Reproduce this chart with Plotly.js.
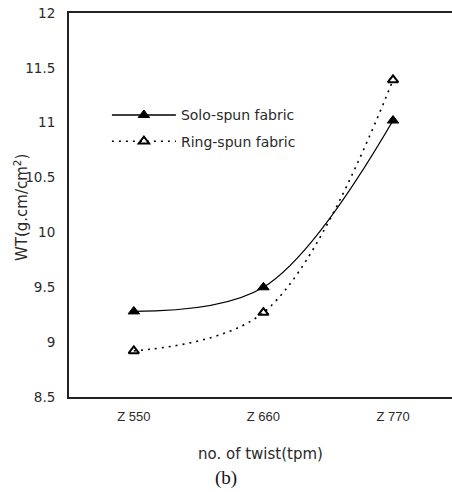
<!DOCTYPE html>
<html>
<head>
<meta charset="utf-8">
<script src="https://cdn.plot.ly/plotly-3.0.1.min.js"></script>
<style>html,body{margin:0;padding:0;background:#fff;}</style>
</head>
<body>
<div id="chart" style="width:452px;height:492px;"></div>
<script>
const categories = ["Z 550", "Z 660", "Z 770"];
const soloSpun = [9.28, 9.50, 11.02];
const ringSpun = [8.92, 9.27, 11.39];
const seriesNames = ["Solo-spun fabric", "Ring-spun fabric"];
const yTicks = [8.5, 9, 9.5, 10, 10.5, 11, 11.5, 12];

const sans = "DejaVu Sans, Verdana, sans-serif";
const narrow = "Liberation Sans, Arial, sans-serif";
const ink = "#2a2a2a";

const traces = [
  {
    x: categories, y: soloSpun, name: seriesNames[0], legendgroup: "solo",
    type: "scatter", mode: "lines+markers",
    line: {color: "#000", width: 1.3, shape: "spline", smoothing: 1},
    marker: {symbol: "triangle-up", size: 10, color: "#000", line: {color: "#000", width: 1}}
  },
  {
    x: categories, y: ringSpun, name: seriesNames[1], legendgroup: "ring",
    type: "scatter", mode: "lines+markers",
    line: {color: "#000", width: 1.6, shape: "spline", smoothing: 1, dash: "2px,5px"},
    marker: {symbol: "triangle-up-open", size: 9, color: "#000", line: {color: "#000", width: 2}}
  }
];

const layout = {
  width: 452, height: 492,
  margin: {l: 69, r: 0, t: 13, b: 95},
  paper_bgcolor: "#fff", plot_bgcolor: "#fff",
  font: {family: sans, color: ink, size: 13},
  showlegend: true,
  legend: {x: 0.099, y: 0.775, xanchor: "left", yanchor: "top", bgcolor: "rgba(0,0,0,0)",
           font: {family: sans, size: 14, color: ink}, itemwidth: 64, tracegroupgap: 5,
           traceorder: "grouped"},
  xaxis: {
    type: "category", range: [-0.5, 2.455],
    showline: true, linecolor: "#222", linewidth: 2, mirror: true,
    showgrid: false, zeroline: false, ticks: "", ticklabelstandoff: 6,
    tickfont: {family: narrow, size: 13, color: ink},
    title: {text: "no. of twist(tpm)", font: {family: sans, size: 15, color: ink}, standoff: 26}
  },
  yaxis: {
    range: [8.5, 12], tickvals: yTicks, ticktext: yTicks.map(String),
    showline: true, linecolor: "#222", linewidth: 2,
    showgrid: false, zeroline: false, ticks: "", ticklabelstandoff: 9,
    tickfont: {family: sans, size: 13.5, color: ink}
  },
  annotations: [
    {text: "WT(g.cm/cm<sup>2</sup>)", xref: "paper", yref: "paper", x: -0.1253, y: 0.492,
     xanchor: "center", yanchor: "middle", textangle: -90, showarrow: false,
     font: {family: sans, size: 15, color: ink}},
    {text: "(b)", xref: "paper", yref: "paper", x: 0.41, y: -0.21, yanchor: "middle", xanchor: "center",
     showarrow: false, font: {family: "Liberation Serif, Times New Roman, serif", size: 19, color: "#111"}}
  ]
};

Plotly.newPlot("chart", traces, layout, {displayModeBar: false, staticPlot: true});
</script>
</body>
</html>
